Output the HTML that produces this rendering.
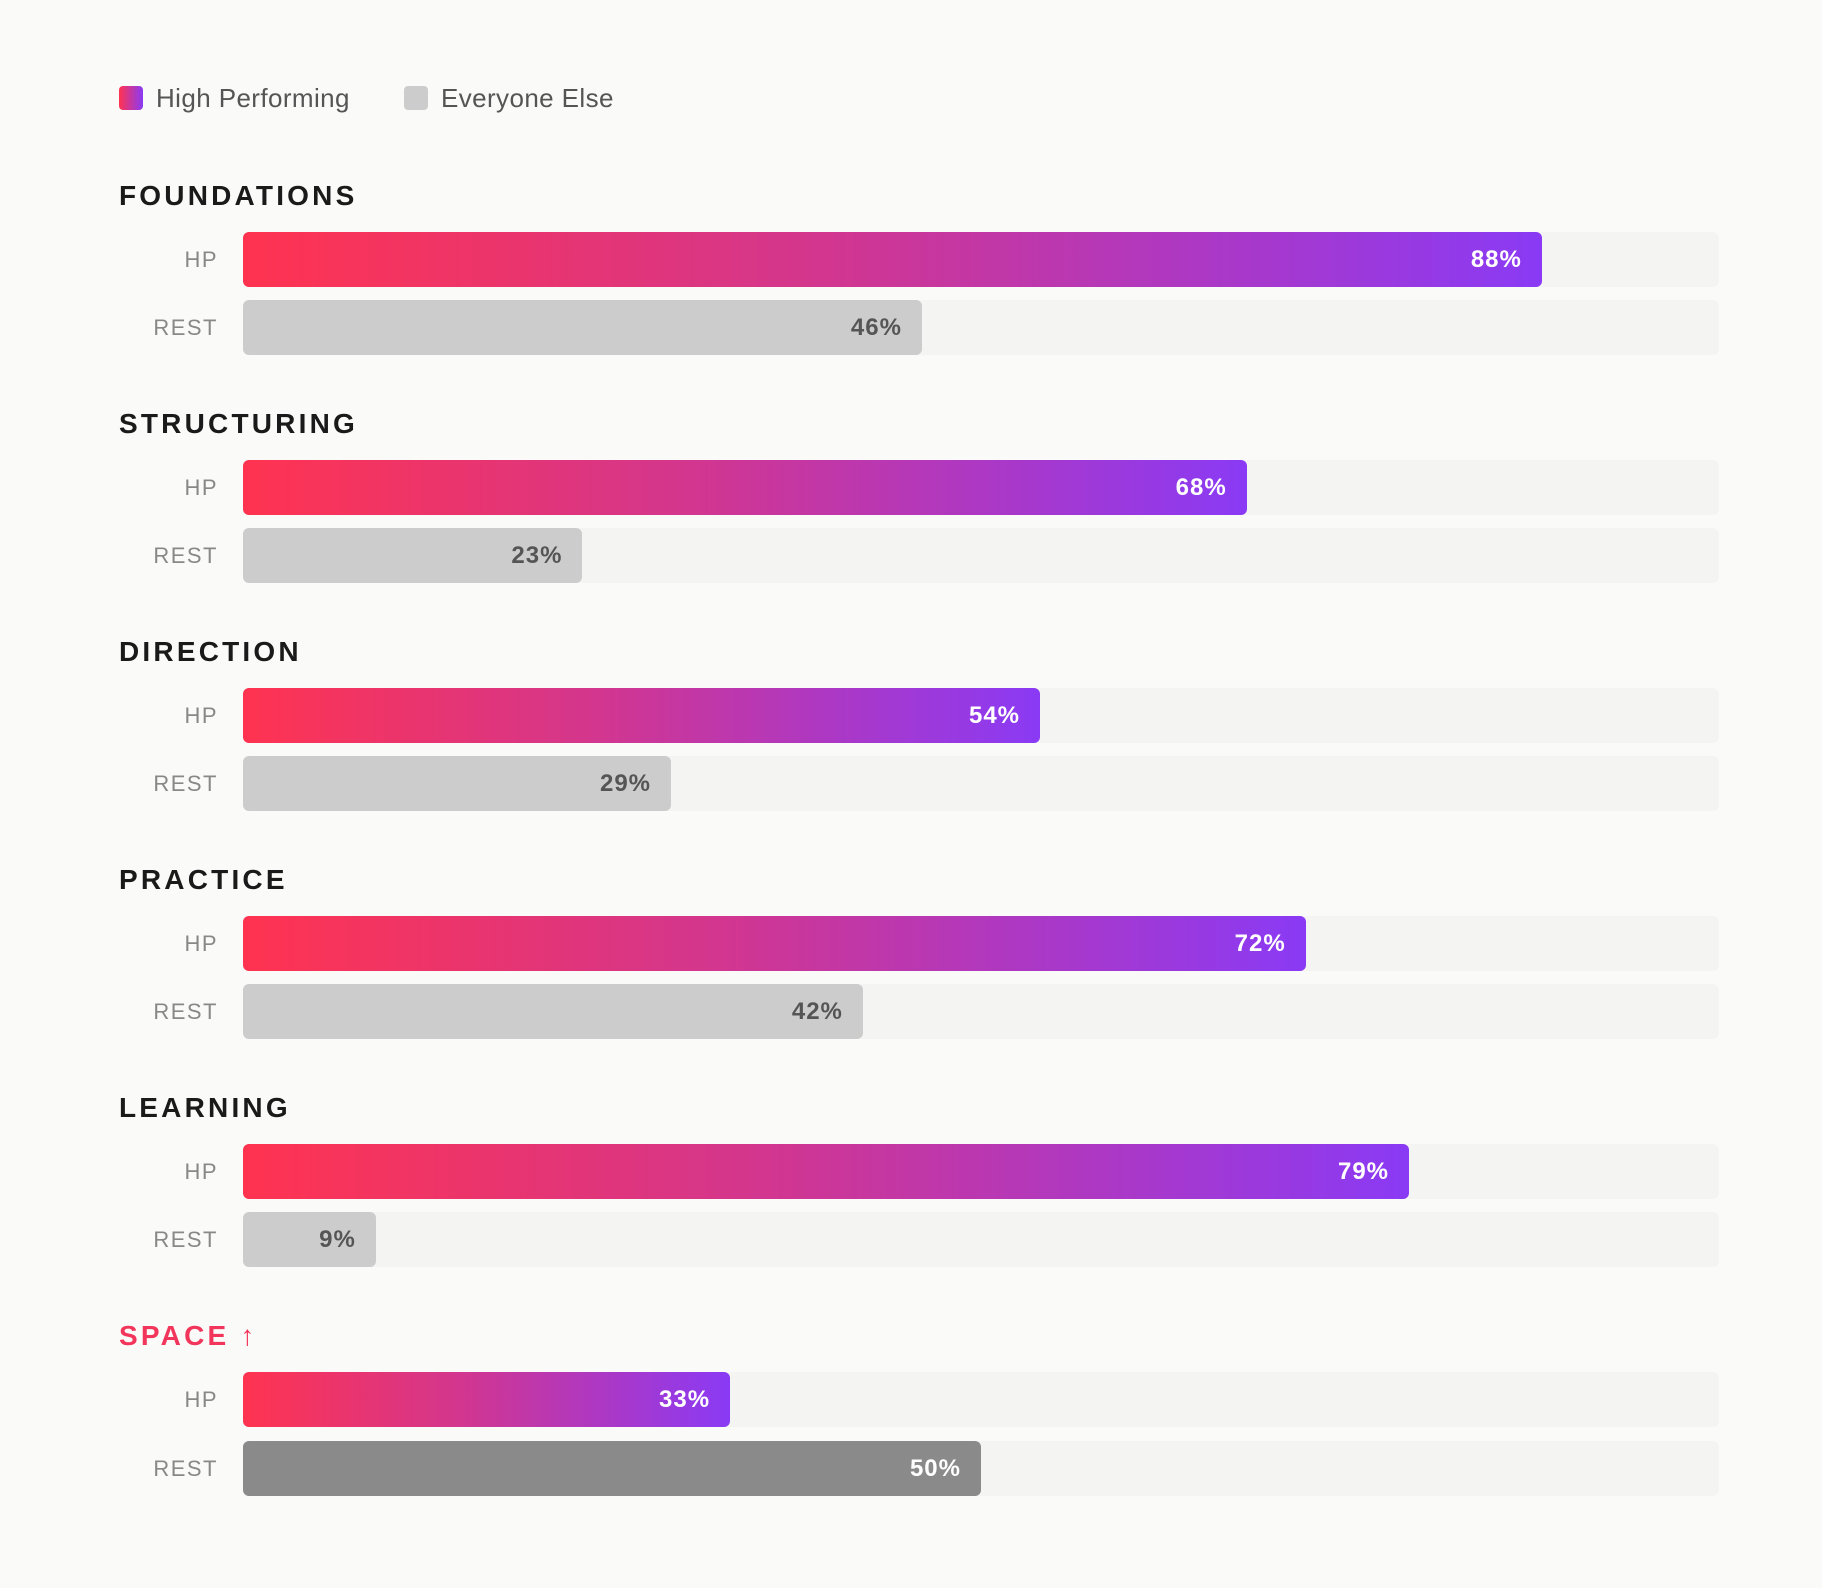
<!DOCTYPE html>
<html><head><meta charset="utf-8"><style>
html,body{margin:0;padding:0;}
body{width:1822px;height:1588px;background:#fafaf9;position:relative;overflow:hidden;font-family:"Liberation Sans",sans-serif;}
.sw{position:absolute;width:24px;height:24px;border-radius:4px;top:86px;}
.lg{position:absolute;top:83px;font-size:26px;letter-spacing:0.4px;color:#555;line-height:30px;}
.t{position:absolute;left:119px;font-size:28px;font-weight:bold;letter-spacing:3.2px;color:#1a1a1a;line-height:34px;}
.lb{position:absolute;right:1604px;font-size:22px;letter-spacing:1.5px;color:#888;line-height:55px;text-align:right;}
.tr{position:absolute;left:243px;width:1476px;height:55px;background:#f4f4f3;border-radius:6px;}
.b{position:absolute;left:0;top:0;height:55px;border-radius:6px;box-sizing:border-box;text-align:right;padding-right:20px;font-size:24px;font-weight:bold;line-height:55px;letter-spacing:1px;}
.hp{background:linear-gradient(90deg,#ff3350,#d2368f 45%,#8a3af5);color:#fff;}
.rs{background:#cccccc;color:#555;}
.rd{background:#8a8a8a;color:#fff;}
</style></head><body>
<div class="sw" style="left:119px;background:linear-gradient(90deg,#ff3350,#8a3af5)"></div>
<div class="lg" style="left:156px">High Performing</div>
<div class="sw" style="left:404px;background:#cccccc"></div>
<div class="lg" style="left:441px">Everyone Else</div>

<div class="t" style="top:179px">FOUNDATIONS</div>
<div class="lb" style="top:232px">HP</div><div class="tr" style="top:232px"><div class="b hp" style="width:88%">88%</div></div>
<div class="lb" style="top:300px">REST</div><div class="tr" style="top:300px"><div class="b rs" style="width:46%">46%</div></div>

<div class="t" style="top:407px">STRUCTURING</div>
<div class="lb" style="top:460px">HP</div><div class="tr" style="top:460px"><div class="b hp" style="width:68%">68%</div></div>
<div class="lb" style="top:528px">REST</div><div class="tr" style="top:528px"><div class="b rs" style="width:23%">23%</div></div>

<div class="t" style="top:635px">DIRECTION</div>
<div class="lb" style="top:688px">HP</div><div class="tr" style="top:688px"><div class="b hp" style="width:54%">54%</div></div>
<div class="lb" style="top:756px">REST</div><div class="tr" style="top:756px"><div class="b rs" style="width:29%">29%</div></div>

<div class="t" style="top:863px">PRACTICE</div>
<div class="lb" style="top:916px">HP</div><div class="tr" style="top:916px"><div class="b hp" style="width:72%">72%</div></div>
<div class="lb" style="top:984px">REST</div><div class="tr" style="top:984px"><div class="b rs" style="width:42%">42%</div></div>

<div class="t" style="top:1091px">LEARNING</div>
<div class="lb" style="top:1144px">HP</div><div class="tr" style="top:1144px"><div class="b hp" style="width:79%">79%</div></div>
<div class="lb" style="top:1212px">REST</div><div class="tr" style="top:1212px"><div class="b rs" style="width:9%">9%</div></div>

<div class="t" style="top:1319px;color:#f2355a">SPACE ↑</div>
<div class="lb" style="top:1372px">HP</div><div class="tr" style="top:1372px"><div class="b hp" style="width:33%">33%</div></div>
<div class="lb" style="top:1441px">REST</div><div class="tr" style="top:1441px"><div class="b rd" style="width:50%">50%</div></div>
</body></html>
